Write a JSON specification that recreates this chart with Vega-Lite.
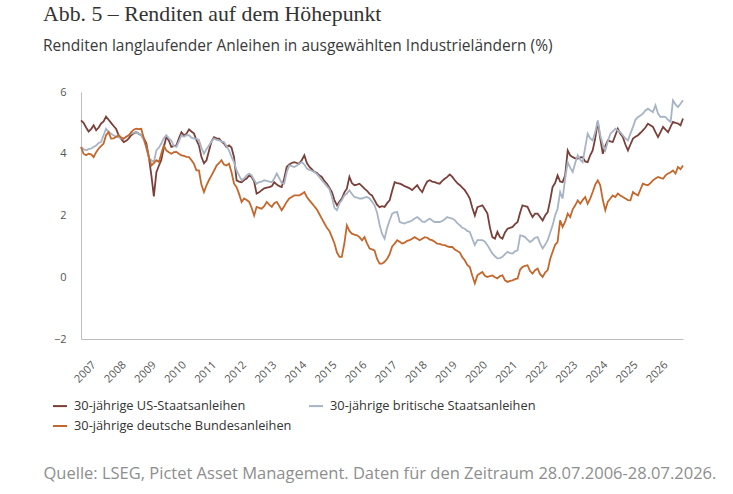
{
  "$schema": "https://vega.github.io/schema/vega-lite/v6.json",
  "width": 602,
  "height": 247,
  "autosize": "none",
  "padding": {"left": 81, "top": 92, "right": 50, "bottom": 155},
  "background": "white",
  "title": {
    "text": "Abb. 5 – Renditen auf dem Höhepunkt",
    "subtitle": "Renditen langlaufender Anleihen in ausgewählten Industrieländern (%)",
    "anchor": "start",
    "frame": "group",
    "dx": -38,
    "offset": 31,
    "font": "Liberation Serif",
    "fontSize": 21.8,
    "fontWeight": "normal",
    "color": "#333333",
    "subtitleFont": "Open Sans",
    "subtitleFontSize": 15.5,
    "subtitleColor": "#3a3a3a",
    "subtitlePadding": 14
  },
  "data": {
    "values": [
      {"d": "2006-07-28", "us": 5.08, "uk": 4.22, "de": 4.22},
      {"d": "2006-08-28", "us": 5.0, "uk": 4.15, "de": 4.0},
      {"d": "2006-09-28", "us": 4.85, "uk": 4.11, "de": 3.95},
      {"d": "2006-10-28", "us": 4.72, "uk": 4.15, "de": 4.0},
      {"d": "2006-11-28", "us": 4.8, "uk": 4.17, "de": 3.98},
      {"d": "2006-12-28", "us": 4.92, "uk": 4.22, "de": 3.89},
      {"d": "2007-01-28", "us": 4.76, "uk": 4.27, "de": 4.05},
      {"d": "2007-02-28", "us": 4.85, "uk": 4.35, "de": 4.17},
      {"d": "2007-03-28", "us": 4.98, "uk": 4.38, "de": 4.25},
      {"d": "2007-04-28", "us": 5.05, "uk": 4.6, "de": 4.33},
      {"d": "2007-05-28", "us": 5.2, "uk": 4.81, "de": 4.6},
      {"d": "2007-06-28", "us": 5.1, "uk": 4.7, "de": 4.7},
      {"d": "2007-07-28", "us": 5.0, "uk": 4.65, "de": 4.49},
      {"d": "2007-08-28", "us": 4.9, "uk": 4.6, "de": 4.5},
      {"d": "2007-09-28", "us": 4.8, "uk": 4.55, "de": 4.55},
      {"d": "2007-10-28", "us": 4.6, "uk": 4.54, "de": 4.6},
      {"d": "2007-11-28", "us": 4.48, "uk": 4.5, "de": 4.52},
      {"d": "2007-12-28", "us": 4.38, "uk": 4.49, "de": 4.49},
      {"d": "2008-01-28", "us": 4.42, "uk": 4.55, "de": 4.55},
      {"d": "2008-02-28", "us": 4.5, "uk": 4.6, "de": 4.6},
      {"d": "2008-03-28", "us": 4.6, "uk": 4.65, "de": 4.7},
      {"d": "2008-04-28", "us": 4.66, "uk": 4.68, "de": 4.78},
      {"d": "2008-05-28", "us": 4.7, "uk": 4.7, "de": 4.81},
      {"d": "2008-06-28", "us": 4.65, "uk": 4.65, "de": 4.8},
      {"d": "2008-07-28", "us": 4.6, "uk": 4.6, "de": 4.81},
      {"d": "2008-08-28", "us": 4.5, "uk": 4.45, "de": 4.5},
      {"d": "2008-09-28", "us": 4.34, "uk": 4.22, "de": 4.2},
      {"d": "2008-10-28", "us": 3.9, "uk": 3.85, "de": 3.9},
      {"d": "2008-11-28", "us": 3.3, "uk": 3.79, "de": 3.62},
      {"d": "2008-12-28", "us": 2.62, "uk": 3.73, "de": 3.7},
      {"d": "2009-01-28", "us": 3.4, "uk": 4.11, "de": 3.79},
      {"d": "2009-02-28", "us": 3.62, "uk": 4.2, "de": 3.73},
      {"d": "2009-03-28", "us": 3.8, "uk": 4.33, "de": 4.0},
      {"d": "2009-04-28", "us": 4.2, "uk": 4.5, "de": 4.27},
      {"d": "2009-05-28", "us": 4.54, "uk": 4.6, "de": 4.11},
      {"d": "2009-06-28", "us": 4.43, "uk": 4.5, "de": 4.05},
      {"d": "2009-07-28", "us": 4.22, "uk": 4.43, "de": 4.0},
      {"d": "2009-08-28", "us": 4.25, "uk": 4.25, "de": 4.05},
      {"d": "2009-09-28", "us": 4.27, "uk": 4.22, "de": 4.06},
      {"d": "2009-10-28", "us": 4.5, "uk": 4.4, "de": 4.0},
      {"d": "2009-11-28", "us": 4.7, "uk": 4.6, "de": 3.95},
      {"d": "2009-12-28", "us": 4.6, "uk": 4.55, "de": 3.93},
      {"d": "2010-01-28", "us": 4.65, "uk": 4.6, "de": 3.9},
      {"d": "2010-02-28", "us": 4.79, "uk": 4.6, "de": 3.89},
      {"d": "2010-03-28", "us": 4.72, "uk": 4.52, "de": 3.8},
      {"d": "2010-04-28", "us": 4.66, "uk": 4.49, "de": 3.68},
      {"d": "2010-05-28", "us": 4.45, "uk": 4.49, "de": 3.46},
      {"d": "2010-06-28", "us": 4.27, "uk": 4.45, "de": 3.46},
      {"d": "2010-07-28", "us": 3.9, "uk": 4.2, "de": 3.0},
      {"d": "2010-08-28", "us": 3.69, "uk": 4.0, "de": 2.76},
      {"d": "2010-09-28", "us": 3.79, "uk": 4.15, "de": 2.98},
      {"d": "2010-10-28", "us": 4.1, "uk": 4.27, "de": 3.15},
      {"d": "2010-11-28", "us": 4.4, "uk": 4.4, "de": 3.3},
      {"d": "2010-12-28", "us": 4.54, "uk": 4.49, "de": 3.45},
      {"d": "2011-01-28", "us": 4.5, "uk": 4.45, "de": 3.62},
      {"d": "2011-02-28", "us": 4.49, "uk": 4.43, "de": 3.7},
      {"d": "2011-03-28", "us": 4.4, "uk": 4.4, "de": 3.79},
      {"d": "2011-04-28", "us": 4.33, "uk": 4.38, "de": 3.65},
      {"d": "2011-05-28", "us": 4.22, "uk": 4.25, "de": 3.62},
      {"d": "2011-06-28", "us": 4.27, "uk": 4.11, "de": 3.68},
      {"d": "2011-07-28", "us": 4.2, "uk": 3.9, "de": 3.41},
      {"d": "2011-08-28", "us": 3.89, "uk": 3.73, "de": 3.03},
      {"d": "2011-09-28", "us": 3.14, "uk": 3.46, "de": 2.92},
      {"d": "2011-10-28", "us": 3.1, "uk": 3.3, "de": 2.7},
      {"d": "2011-11-28", "us": 3.08, "uk": 3.14, "de": 2.44},
      {"d": "2011-12-28", "us": 3.15, "uk": 3.2, "de": 2.55},
      {"d": "2012-01-28", "us": 3.2, "uk": 3.3, "de": 2.5},
      {"d": "2012-02-28", "us": 3.3, "uk": 3.36, "de": 2.44},
      {"d": "2012-03-28", "us": 3.25, "uk": 3.3, "de": 2.25},
      {"d": "2012-04-28", "us": 3.1, "uk": 3.15, "de": 2.0},
      {"d": "2012-05-28", "us": 2.71, "uk": 3.03, "de": 2.28},
      {"d": "2012-06-28", "us": 2.75, "uk": 3.08, "de": 2.25},
      {"d": "2012-07-28", "us": 2.82, "uk": 3.1, "de": 2.22},
      {"d": "2012-08-28", "us": 2.88, "uk": 3.14, "de": 2.3},
      {"d": "2012-09-28", "us": 2.9, "uk": 3.12, "de": 2.44},
      {"d": "2012-10-28", "us": 2.92, "uk": 3.1, "de": 2.35},
      {"d": "2012-11-28", "us": 2.95, "uk": 3.08, "de": 2.28},
      {"d": "2012-12-28", "us": 3.08, "uk": 3.2, "de": 2.4},
      {"d": "2013-01-28", "us": 3.0, "uk": 3.36, "de": 2.44},
      {"d": "2013-02-28", "us": 2.95, "uk": 3.2, "de": 2.3},
      {"d": "2013-03-28", "us": 2.92, "uk": 3.05, "de": 2.17},
      {"d": "2013-04-28", "us": 3.2, "uk": 3.03, "de": 2.3},
      {"d": "2013-05-28", "us": 3.57, "uk": 3.4, "de": 2.44},
      {"d": "2013-06-28", "us": 3.65, "uk": 3.62, "de": 2.55},
      {"d": "2013-07-28", "us": 3.7, "uk": 3.6, "de": 2.6},
      {"d": "2013-08-28", "us": 3.73, "uk": 3.57, "de": 2.65},
      {"d": "2013-09-28", "us": 3.7, "uk": 3.62, "de": 2.65},
      {"d": "2013-10-28", "us": 3.68, "uk": 3.68, "de": 2.65},
      {"d": "2013-11-28", "us": 3.8, "uk": 3.73, "de": 2.7},
      {"d": "2013-12-28", "us": 3.95, "uk": 3.65, "de": 2.76},
      {"d": "2014-01-28", "us": 3.7, "uk": 3.52, "de": 2.6},
      {"d": "2014-02-28", "us": 3.57, "uk": 3.48, "de": 2.49},
      {"d": "2014-03-28", "us": 3.5, "uk": 3.45, "de": 2.4},
      {"d": "2014-04-28", "us": 3.41, "uk": 3.41, "de": 2.3},
      {"d": "2014-05-28", "us": 3.38, "uk": 3.35, "de": 2.2},
      {"d": "2014-06-28", "us": 3.3, "uk": 3.25, "de": 2.05},
      {"d": "2014-07-28", "us": 3.25, "uk": 3.14, "de": 1.9},
      {"d": "2014-08-28", "us": 3.12, "uk": 3.05, "de": 1.75},
      {"d": "2014-09-28", "us": 3.03, "uk": 2.95, "de": 1.6},
      {"d": "2014-10-28", "us": 2.9, "uk": 2.85, "de": 1.5},
      {"d": "2014-11-28", "us": 2.76, "uk": 2.6, "de": 1.3},
      {"d": "2014-12-28", "us": 2.5, "uk": 2.25, "de": 1.1},
      {"d": "2015-01-28", "us": 2.33, "uk": 2.17, "de": 0.8},
      {"d": "2015-02-28", "us": 2.45, "uk": 2.4, "de": 0.66},
      {"d": "2015-03-28", "us": 2.55, "uk": 2.49, "de": 0.66},
      {"d": "2015-04-28", "us": 2.75, "uk": 2.65, "de": 1.1},
      {"d": "2015-05-28", "us": 2.87, "uk": 2.71, "de": 1.68},
      {"d": "2015-06-28", "us": 3.25, "uk": 2.82, "de": 1.5},
      {"d": "2015-07-28", "us": 3.05, "uk": 2.7, "de": 1.41},
      {"d": "2015-08-28", "us": 2.98, "uk": 2.6, "de": 1.38},
      {"d": "2015-09-28", "us": 3.0, "uk": 2.58, "de": 1.36},
      {"d": "2015-10-28", "us": 3.03, "uk": 2.55, "de": 1.3},
      {"d": "2015-11-28", "us": 2.95, "uk": 2.55, "de": 1.2},
      {"d": "2015-12-28", "us": 2.87, "uk": 2.58, "de": 1.3},
      {"d": "2016-01-28", "us": 2.8, "uk": 2.6, "de": 1.1},
      {"d": "2016-02-28", "us": 2.7, "uk": 2.55, "de": 0.93},
      {"d": "2016-03-28", "us": 2.65, "uk": 2.45, "de": 0.9},
      {"d": "2016-04-28", "us": 2.5, "uk": 2.33, "de": 0.87},
      {"d": "2016-05-28", "us": 2.35, "uk": 2.1, "de": 0.6},
      {"d": "2016-06-28", "us": 2.27, "uk": 1.7, "de": 0.44},
      {"d": "2016-07-28", "us": 2.3, "uk": 1.4, "de": 0.44},
      {"d": "2016-08-28", "us": 2.28, "uk": 1.25, "de": 0.5},
      {"d": "2016-09-28", "us": 2.4, "uk": 1.6, "de": 0.6},
      {"d": "2016-10-28", "us": 2.49, "uk": 1.84, "de": 0.75},
      {"d": "2016-11-28", "us": 2.8, "uk": 2.06, "de": 1.0},
      {"d": "2016-12-28", "us": 3.08, "uk": 2.1, "de": 1.09},
      {"d": "2017-01-28", "us": 3.05, "uk": 2.11, "de": 1.2},
      {"d": "2017-02-28", "us": 3.03, "uk": 1.79, "de": 1.15},
      {"d": "2017-03-28", "us": 3.0, "uk": 1.76, "de": 1.09},
      {"d": "2017-04-28", "us": 2.95, "uk": 1.74, "de": 1.12},
      {"d": "2017-05-28", "us": 2.92, "uk": 1.78, "de": 1.18},
      {"d": "2017-06-28", "us": 2.88, "uk": 1.8, "de": 1.2},
      {"d": "2017-07-28", "us": 2.82, "uk": 1.84, "de": 1.25},
      {"d": "2017-08-28", "us": 2.9, "uk": 1.9, "de": 1.3},
      {"d": "2017-09-28", "us": 2.98, "uk": 1.95, "de": 1.25},
      {"d": "2017-10-28", "us": 2.85, "uk": 1.88, "de": 1.2},
      {"d": "2017-11-28", "us": 2.76, "uk": 1.8, "de": 1.25},
      {"d": "2017-12-28", "us": 2.95, "uk": 1.79, "de": 1.3},
      {"d": "2018-01-28", "us": 3.1, "uk": 1.85, "de": 1.28},
      {"d": "2018-02-28", "us": 3.14, "uk": 1.9, "de": 1.22},
      {"d": "2018-03-28", "us": 3.1, "uk": 1.84, "de": 1.2},
      {"d": "2018-04-28", "us": 3.08, "uk": 1.79, "de": 1.15},
      {"d": "2018-05-28", "us": 3.05, "uk": 1.79, "de": 1.09},
      {"d": "2018-06-28", "us": 3.03, "uk": 1.79, "de": 1.08},
      {"d": "2018-07-28", "us": 3.12, "uk": 1.82, "de": 1.05},
      {"d": "2018-08-28", "us": 3.19, "uk": 1.88, "de": 1.04},
      {"d": "2018-09-28", "us": 3.25, "uk": 1.95, "de": 1.0},
      {"d": "2018-10-28", "us": 3.33, "uk": 1.92, "de": 0.98},
      {"d": "2018-11-28", "us": 3.25, "uk": 1.9, "de": 0.98},
      {"d": "2018-12-28", "us": 3.14, "uk": 1.85, "de": 0.9},
      {"d": "2019-01-28", "us": 3.05, "uk": 1.75, "de": 0.85},
      {"d": "2019-02-28", "us": 2.98, "uk": 1.68, "de": 0.8},
      {"d": "2019-03-28", "us": 2.9, "uk": 1.6, "de": 0.65},
      {"d": "2019-04-28", "us": 2.82, "uk": 1.57, "de": 0.55},
      {"d": "2019-05-28", "us": 2.7, "uk": 1.5, "de": 0.4},
      {"d": "2019-06-28", "us": 2.55, "uk": 1.47, "de": 0.33},
      {"d": "2019-07-28", "us": 2.25, "uk": 1.25, "de": 0.05},
      {"d": "2019-08-28", "us": 2.0, "uk": 1.04, "de": -0.2},
      {"d": "2019-09-28", "us": 2.27, "uk": 1.2, "de": 0.06},
      {"d": "2019-10-28", "us": 2.3, "uk": 1.2, "de": 0.12},
      {"d": "2019-11-28", "us": 2.33, "uk": 1.2, "de": 0.17},
      {"d": "2019-12-28", "us": 2.2, "uk": 1.15, "de": 0.05},
      {"d": "2020-01-28", "us": 2.06, "uk": 1.04, "de": 0.01},
      {"d": "2020-02-28", "us": 1.6, "uk": 0.9, "de": 0.04},
      {"d": "2020-03-28", "us": 1.3, "uk": 0.77, "de": 0.06},
      {"d": "2020-04-28", "us": 1.25, "uk": 0.68, "de": 0.0},
      {"d": "2020-05-28", "us": 1.47, "uk": 0.61, "de": -0.04},
      {"d": "2020-06-28", "us": 1.3, "uk": 0.62, "de": 0.04},
      {"d": "2020-07-28", "us": 1.25, "uk": 0.66, "de": 0.06},
      {"d": "2020-08-28", "us": 1.45, "uk": 0.75, "de": -0.1},
      {"d": "2020-09-28", "us": 1.57, "uk": 0.82, "de": -0.15},
      {"d": "2020-10-28", "us": 1.6, "uk": 0.78, "de": -0.12},
      {"d": "2020-11-28", "us": 1.63, "uk": 0.77, "de": -0.1},
      {"d": "2020-12-28", "us": 1.72, "uk": 0.84, "de": -0.06},
      {"d": "2021-01-28", "us": 1.79, "uk": 0.87, "de": -0.04},
      {"d": "2021-02-28", "us": 2.1, "uk": 1.36, "de": 0.25},
      {"d": "2021-03-28", "us": 2.33, "uk": 1.34, "de": 0.33},
      {"d": "2021-04-28", "us": 2.3, "uk": 1.3, "de": 0.37},
      {"d": "2021-05-28", "us": 2.28, "uk": 1.22, "de": 0.39},
      {"d": "2021-06-28", "us": 2.1, "uk": 1.14, "de": 0.2},
      {"d": "2021-07-28", "us": 1.95, "uk": 1.2, "de": 0.12},
      {"d": "2021-08-28", "us": 2.06, "uk": 1.28, "de": 0.23},
      {"d": "2021-09-28", "us": 2.06, "uk": 1.3, "de": 0.28},
      {"d": "2021-10-28", "us": 1.95, "uk": 1.1, "de": 0.1},
      {"d": "2021-11-28", "us": 1.84, "uk": 0.93, "de": 0.01},
      {"d": "2021-12-28", "us": 2.0, "uk": 1.05, "de": 0.15},
      {"d": "2022-01-28", "us": 2.11, "uk": 1.2, "de": 0.23},
      {"d": "2022-02-28", "us": 2.5, "uk": 1.45, "de": 0.6},
      {"d": "2022-03-28", "us": 2.92, "uk": 1.68, "de": 0.82},
      {"d": "2022-04-28", "us": 3.05, "uk": 2.0, "de": 1.05},
      {"d": "2022-05-28", "us": 3.3, "uk": 2.22, "de": 1.14},
      {"d": "2022-06-28", "us": 3.1, "uk": 2.76, "de": 1.84},
      {"d": "2022-07-28", "us": 3.08, "uk": 2.55, "de": 1.63},
      {"d": "2022-08-28", "us": 3.3, "uk": 3.2, "de": 1.8},
      {"d": "2022-09-28", "us": 4.11, "uk": 3.73, "de": 2.06},
      {"d": "2022-10-28", "us": 3.95, "uk": 3.55, "de": 1.95},
      {"d": "2022-11-28", "us": 3.89, "uk": 3.41, "de": 2.2},
      {"d": "2022-12-28", "us": 3.85, "uk": 3.7, "de": 2.33},
      {"d": "2023-01-28", "us": 3.84, "uk": 3.95, "de": 2.49},
      {"d": "2023-02-28", "us": 3.88, "uk": 3.8, "de": 2.38},
      {"d": "2023-03-28", "us": 3.89, "uk": 3.73, "de": 2.5},
      {"d": "2023-04-28", "us": 3.75, "uk": 4.2, "de": 2.6},
      {"d": "2023-05-28", "us": 3.73, "uk": 4.65, "de": 2.38},
      {"d": "2023-06-28", "us": 3.95, "uk": 4.5, "de": 2.55},
      {"d": "2023-07-28", "us": 4.11, "uk": 4.43, "de": 2.76},
      {"d": "2023-08-28", "us": 4.5, "uk": 4.7, "de": 3.0},
      {"d": "2023-09-28", "us": 5.03, "uk": 5.08, "de": 3.14},
      {"d": "2023-10-28", "us": 4.5, "uk": 4.6, "de": 2.98},
      {"d": "2023-11-28", "us": 4.0, "uk": 4.3, "de": 2.5},
      {"d": "2023-12-28", "us": 4.25, "uk": 4.11, "de": 2.17},
      {"d": "2024-01-28", "us": 4.43, "uk": 4.4, "de": 2.45},
      {"d": "2024-02-28", "us": 4.4, "uk": 4.65, "de": 2.55},
      {"d": "2024-03-28", "us": 4.38, "uk": 4.72, "de": 2.65},
      {"d": "2024-04-28", "us": 4.6, "uk": 4.81, "de": 2.6},
      {"d": "2024-05-28", "us": 4.81, "uk": 4.75, "de": 2.71},
      {"d": "2024-06-28", "us": 4.65, "uk": 4.7, "de": 2.65},
      {"d": "2024-07-28", "us": 4.54, "uk": 4.6, "de": 2.6},
      {"d": "2024-08-28", "us": 4.3, "uk": 4.5, "de": 2.55},
      {"d": "2024-09-28", "us": 4.11, "uk": 4.43, "de": 2.5},
      {"d": "2024-10-28", "us": 4.3, "uk": 4.65, "de": 2.49},
      {"d": "2024-11-28", "us": 4.49, "uk": 4.87, "de": 2.76},
      {"d": "2024-12-28", "us": 4.55, "uk": 5.1, "de": 2.7},
      {"d": "2025-01-28", "us": 4.6, "uk": 5.19, "de": 2.65},
      {"d": "2025-02-28", "us": 4.68, "uk": 5.24, "de": 2.85},
      {"d": "2025-03-28", "us": 4.76, "uk": 5.3, "de": 3.03},
      {"d": "2025-04-28", "us": 4.85, "uk": 5.4, "de": 3.0},
      {"d": "2025-05-28", "us": 4.97, "uk": 5.46, "de": 2.98},
      {"d": "2025-06-28", "us": 4.92, "uk": 5.4, "de": 3.05},
      {"d": "2025-07-28", "us": 4.87, "uk": 5.35, "de": 3.14},
      {"d": "2025-08-28", "us": 4.7, "uk": 5.57, "de": 3.2},
      {"d": "2025-09-28", "us": 4.54, "uk": 5.3, "de": 3.25},
      {"d": "2025-10-28", "us": 4.7, "uk": 5.19, "de": 3.22},
      {"d": "2025-11-28", "us": 4.87, "uk": 5.2, "de": 3.19},
      {"d": "2025-12-28", "us": 4.78, "uk": 5.19, "de": 3.3},
      {"d": "2026-01-28", "us": 4.7, "uk": 5.1, "de": 3.36},
      {"d": "2026-02-28", "us": 4.88, "uk": 5.03, "de": 3.4},
      {"d": "2026-03-28", "us": 5.03, "uk": 5.73, "de": 3.46},
      {"d": "2026-04-28", "us": 5.0, "uk": 5.6, "de": 3.36},
      {"d": "2026-05-28", "us": 4.98, "uk": 5.51, "de": 3.57},
      {"d": "2026-06-28", "us": 4.92, "uk": 5.62, "de": 3.5},
      {"d": "2026-07-28", "us": 5.14, "uk": 5.73, "de": 3.62}
    ]
  },
  "transform": [
    {"fold": ["us", "uk", "de"], "as": ["series", "yield"]}
  ],
  "mark": {"type": "line", "strokeWidth": 1.8},
  "encoding": {
    "x": {
      "field": "d",
      "type": "temporal",
      "scale": {
        "type": "utc",
        "domain": [
          {"year": 2006, "month": 7, "date": 28, "utc": true},
          {"year": 2026, "month": 7, "date": 28, "utc": true}
        ]
      },
      "axis": {
        "format": "%Y",
        "tickCount": {"interval": "year", "step": 1},
        "labelAngle": -45,
        "labelAlign": "right",
        "labelBaseline": "middle",
        "labelPadding": 24,
        "labelFont": "Open Sans",
        "labelFontSize": 11,
        "labelColor": "#555555",
        "labelOverlap": false,
        "ticks": false,
        "grid": false,
        "domainColor": "#bdbdbd",
        "title": "Quelle: LSEG, Pictet Asset Management. Daten für den Zeitraum 28.07.2006-28.07.2026.",
        "titleX": -38,
        "titleY": 139,
        "titleAlign": "left",
        "titleAnchor": "start",
        "titleBaseline": "alphabetic",
        "titleFont": "Open Sans",
        "titleFontSize": 16.5,
        "titleFontWeight": "normal",
        "titleColor": "#8e8e8e"
      }
    },
    "y": {
      "field": "yield",
      "type": "quantitative",
      "scale": {"domain": [-2, 6], "nice": false, "zero": false},
      "axis": {
        "values": [-2, 0, 2, 4, 6],
        "title": null,
        "ticks": false,
        "grid": false,
        "labelPadding": 15,
        "labelFont": "Open Sans",
        "labelFontSize": 11,
        "labelColor": "#555555",
        "domainColor": "#bdbdbd"
      }
    },
    "color": {
      "field": "series",
      "type": "nominal",
      "scale": {
        "domain": ["us", "uk", "de"],
        "range": ["#7a3f38", "#a7b4c5", "#c4672c"]
      },
      "legend": {
        "title": null,
        "orient": "none",
        "legendX": -29,
        "legendY": 306,
        "direction": "horizontal",
        "columns": 2,
        "columnPadding": 13,
        "rowPadding": 5,
        "symbolType": "stroke",
        "symbolSize": 196,
        "symbolStrokeWidth": 2,
        "labelOffset": 6,
        "labelFont": "Open Sans",
        "labelFontSize": 12.8,
        "labelColor": "#333333",
        "labelLimit": 400,
        "labelExpr": "datum.label == 'us' ? '30-jährige US-Staatsanleihen' : datum.label == 'uk' ? '30-jährige britische Staatsanleihen' : '30-jährige deutsche Bundesanleihen'"
      }
    }
  },
  "config": {
    "view": {"stroke": null}
  }
}
